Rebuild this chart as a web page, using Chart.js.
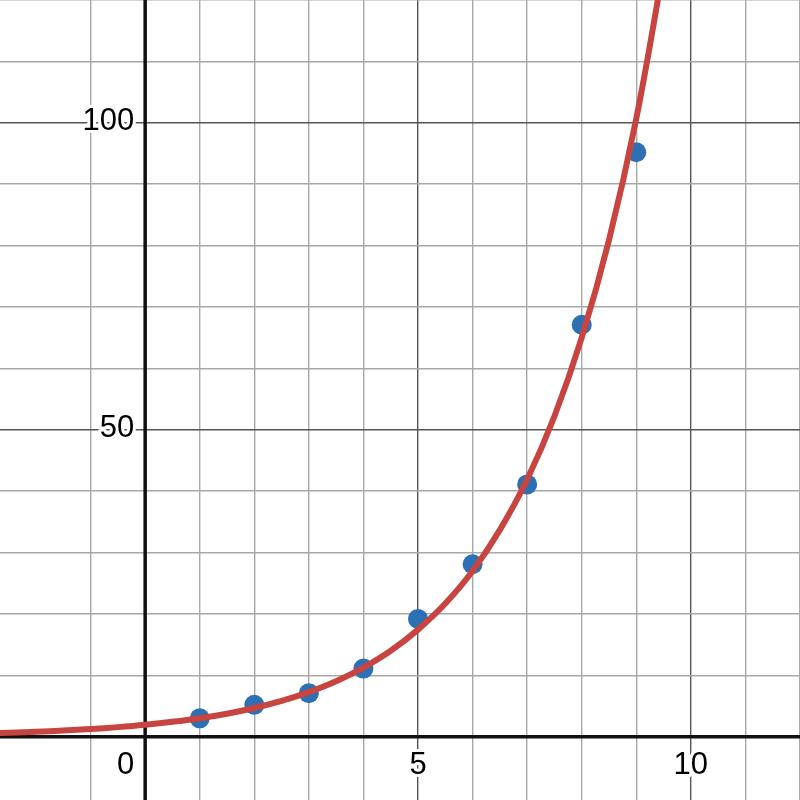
<!DOCTYPE html>
<html>
<head>
<meta charset="utf-8">
<script src="https://cdn.jsdelivr.net/npm/chart.js@4/dist/chart.umd.min.js"></script>
<style>
  html, body { margin: 0; padding: 0; background: #fff; }
  #wrap { width: 800px; height: 800px; }
</style>
</head>
<body>
<div id="wrap"><canvas id="grafica"></canvas></div>
<script>
// puntos medidos (azul)
const puntosX = [1, 2, 3, 4, 5, 6, 7, 8, 9];
const puntosY = [3.0, 5.2, 7.1, 11.1, 19.2, 28.1, 41.1, 67.1, 95.2];

// curva de ajuste (roja)
const curvaX = [-2.7, -2, -1.5, -1, -0.5, 0, 0.5, 1, 1.5, 2, 2.5, 3, 3.5, 4, 4.5, 5, 5.5, 6, 6.5, 7, 7.5, 8, 8.5, 9, 9.5];
const curvaY = [0.6, 0.81, 1.01, 1.26, 1.57, 1.95, 2.43, 3.02, 3.76, 4.68, 5.83, 7.26, 9.04, 11.26, 14.0, 17.45, 21.7, 27.0, 33.7, 41.9, 52.2, 65.0, 80.9, 100.7, 125.3];

// etiquetas de los ejes
const etiquetasX = [0, 5, 10];
const etiquetasY = [50, 100];

const limitesX = [-2.66, 12];
const limitesY = [-10.3, 120];

const canvas = document.querySelector("#grafica");

const esEntero = (v) => Math.abs(v - Math.round(v)) < 1e-6;

// ejes negros y numeros sobre los ejes
const ejesPlugin = {
  id: "ejes",
  beforeDatasetsDraw(chart) {
    const { ctx, chartArea, scales } = chart;
    const x0 = scales.x.getPixelForValue(0);
    const y0 = scales.y.getPixelForValue(0);
    ctx.save();
    ctx.strokeStyle = "#111";
    ctx.lineWidth = 3.5;
    ctx.beginPath();
    ctx.moveTo(x0, chartArea.top);
    ctx.lineTo(x0, chartArea.bottom);
    ctx.moveTo(chartArea.left, y0);
    ctx.lineTo(chartArea.right, y0);
    ctx.stroke();

    ctx.font = '31px "Liberation Sans", Arial, sans-serif';
    ctx.lineJoin = "round";
    ctx.textBaseline = "alphabetic";

    const texto = (t, x, y) => {
      ctx.strokeStyle = "#fff";
      ctx.lineWidth = 6;
      ctx.strokeText(t, x, y);
      ctx.fillStyle = "#000";
      ctx.fillText(t, x, y);
    };

    etiquetasX.forEach((v) => {
      const px = scales.x.getPixelForValue(v);
      if (v === 0) {
        ctx.textAlign = "right";
        texto(String(v), px - 11, y0 + 37);
      } else {
        ctx.textAlign = "center";
        texto(String(v), px, y0 + 37);
      }
    });

    ctx.textAlign = "right";
    etiquetasY.forEach((v) => {
      const py = scales.y.getPixelForValue(v);
      texto(String(v), x0 - 11, py + 7.5);
    });
    ctx.restore();
  },
};

const chartConfig = {
  type: "scatter",
  data: {
    datasets: [
      {
        type: "line",
        label: "ajuste",
        data: curvaX.map((x, i) => ({ x: x, y: curvaY[i] })),
        borderColor: "#c74440",
        borderWidth: 6,
        pointRadius: 0,
        tension: 0.4,
        fill: false,
        order: 0,
      },
      {
        label: "datos",
        data: puntosX.map((x, i) => ({ x: x, y: puntosY[i] })),
        backgroundColor: "#2d70b3",
        borderWidth: 0,
        pointRadius: 10,
        order: 1,
      },
    ],
  },
  options: {
    responsive: true,
    maintainAspectRatio: false,
    animation: false,
    layout: { padding: 0, autoPadding: false },
    plugins: { legend: { display: false }, tooltip: { enabled: false } },
    scales: {
      x: {
        type: "linear",
        min: limitesX[0],
        max: limitesX[1],
        ticks: { display: false, stepSize: 1 },
        border: { display: false },
        afterBuildTicks: (scale) => {
          scale.ticks = scale.ticks.filter((t) => esEntero(t.value) && t.value !== 0);
        },
        grid: {
          drawTicks: false,
          lineWidth: 1.4,
          color: (c) => (c.tick && c.tick.value % 5 === 0 ? "#555" : "#a8a8a8"),
        },
      },
      y: {
        type: "linear",
        min: limitesY[0],
        max: limitesY[1],
        ticks: { display: false, stepSize: 10 },
        border: { display: false },
        afterBuildTicks: (scale) => {
          scale.ticks = scale.ticks.filter((t) => esEntero(t.value / 10) && t.value !== 0);
        },
        grid: {
          drawTicks: false,
          lineWidth: 1.4,
          color: (c) => (c.tick && c.tick.value % 50 === 0 ? "#555" : "#a8a8a8"),
        },
      },
    },
  },
  plugins: [ejesPlugin],
};

const chart = new Chart(canvas, chartConfig);
</script>
</body>
</html>
